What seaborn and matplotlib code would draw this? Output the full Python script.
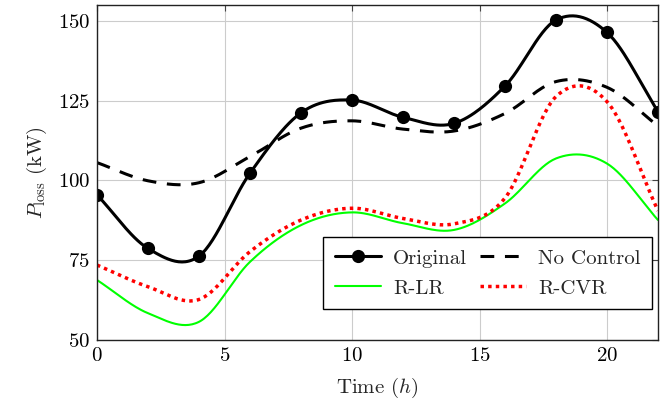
import numpy as np
import pandas as pd
import matplotlib
matplotlib.use("Agg")
import matplotlib.pyplot as plt
import seaborn as sns

# Hourly samples (every 2 h) of power loss in kW
hours = [0, 2, 4, 6, 8, 10, 12, 14, 16, 18, 20, 22]
original = [95.5, 78.7, 76.3, 102.3, 121.2, 125.2, 119.8, 117.9, 129.6, 150.3, 146.4, 121.6]
no_control = [105.6, 99.9, 99.3, 107.5, 116.4, 118.7, 116.1, 115.5, 121.0, 131.0, 129.2, 117.1]
r_lr = [68.8, 58.4, 55.7, 74.5, 86.0, 90.0, 86.6, 84.5, 92.8, 106.9, 105.3, 87.6]
r_cvr = [73.5, 66.7, 62.7, 77.7, 87.6, 91.3, 88.1, 86.4, 94.5, 126.3, 124.7, 90.5]

x_ticks = [0, 5, 10, 15, 20]
y_ticks = [50, 75, 100, 125, 150]

sns.set_theme(style="whitegrid")
plt.rcParams.update({
    "font.family": "cmr10",
    "mathtext.fontset": "cm",
    "axes.formatter.use_mathtext": True,
    "axes.unicode_minus": False,
    "font.size": 15,
})


def smooth(xs, ys, n=30):
    """Catmull-Rom curve through the samples, like a 'smooth' plot."""
    p = np.column_stack([xs, ys]).astype(float)
    m = np.zeros_like(p)
    m[1:-1] = (p[2:] - p[:-2]) / 2.0
    m[0] = p[1] - p[0]
    m[-1] = p[-1] - p[-2]
    out = []
    t = np.linspace(0, 1, n, endpoint=False)[:, None]
    h00 = 2 * t**3 - 3 * t**2 + 1
    h10 = t**3 - 2 * t**2 + t
    h01 = -2 * t**3 + 3 * t**2
    h11 = t**3 - t**2
    for i in range(len(p) - 1):
        seg = h00 * p[i] + h10 * m[i] + h01 * p[i + 1] + h11 * m[i + 1]
        out.append(seg)
    out.append(p[-1:])
    c = np.vstack(out)
    return c[:, 0], c[:, 1]


N = 30
curves = {}
for name, vals in [("Original", original), ("No Control", no_control),
                   ("R-LR", r_lr), ("R-CVR", r_cvr)]:
    sx, sy = smooth(hours, vals, N)
    curves[name] = pd.DataFrame({"t": sx, "p": sy})

fig = plt.figure(figsize=(6.68, 4.04), dpi=100)
ax = fig.add_axes([97 / 668, 64 / 404, 561 / 668, 335 / 404])

mark_idx = list(range(0, N * (len(hours) - 1) + 1, N))
sns.lineplot(data=curves["Original"], x="t", y="p", ax=ax, color="black",
             linewidth=2.2, marker="o", markersize=9.5, markevery=mark_idx,
             markeredgewidth=0, label="Original", sort=False, estimator=None)
sns.lineplot(data=curves["No Control"], x="t", y="p", ax=ax, color="black",
             linewidth=2.2, label="No Control", sort=False, estimator=None)
sns.lineplot(data=curves["R-LR"], x="t", y="p", ax=ax, color="#00ff00",
             linewidth=1.5, label="R-LR", sort=False, estimator=None)
sns.lineplot(data=curves["R-CVR"], x="t", y="p", ax=ax, color="#ff0000",
             linewidth=2.5, label="R-CVR", sort=False, estimator=None)

lines = ax.get_lines()
lines[1].set_dashes([4.5, 3.5])
lines[3].set_dashes([1.0, 1.2])

ax.set_xlim(0, 22)
ax.set_ylim(50, 155)
ax.set_xticks(x_ticks)
ax.set_yticks(y_ticks)
ax.set_xlabel("Time ($h$)", fontsize=15, labelpad=8)
ax.set_ylabel(r"$P_{\mathrm{loss}}$ (kW)", fontsize=15, labelpad=6)

ax.grid(True, color="#cccccc", linewidth=0.8)
for s in ax.spines.values():
    s.set_color("#222222")
    s.set_linewidth(1.0)
ax.tick_params(direction="in", length=4, width=0.8, top=True, right=True,
               colors="#444444", labelcolor="black", labelsize=15, pad=5)

# Legend rows read left to right: Original, No Control / R-LR, R-CVR
handles, labels = ax.get_legend_handles_labels()
order = [0, 2, 1, 3]
leg = ax.legend([handles[i] for i in order], [labels[i] for i in order],
                ncol=2, loc="lower right",
                bbox_to_anchor=(555 / 561, 31 / 335), borderaxespad=0,
                frameon=True, fancybox=False,
                framealpha=1.0, edgecolor="black", fontsize=15,
                handlelength=2.2, columnspacing=0.6, handletextpad=0.6,
                borderpad=0.55, labelspacing=0.55)
leg.get_frame().set_linewidth(1.0)

fig.savefig("out.png", dpi=100)
